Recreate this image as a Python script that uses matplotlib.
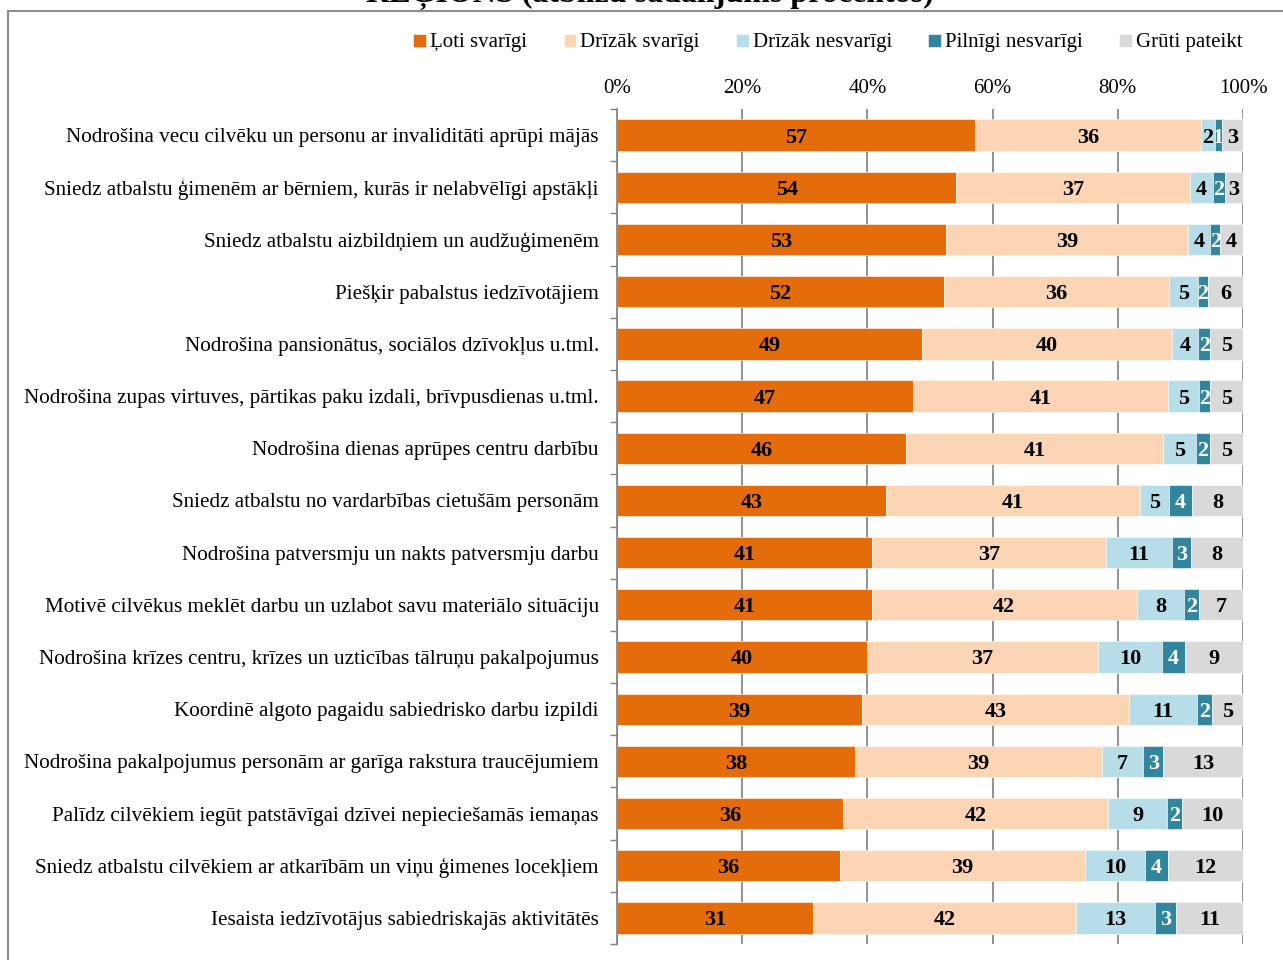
import matplotlib.pyplot as plt
from matplotlib.patches import Rectangle
import numpy as np

plt.rcParams['font.family'] = ['Liberation Serif', 'DejaVu Serif']

# kategorijas (no augšas uz leju)
categories = [
    "Nodrošina vecu cilvēku un personu ar invaliditāti aprūpi mājās",
    "Sniedz atbalstu ģimenēm ar bērniem, kurās ir nelabvēlīgi apstākļi",
    "Sniedz atbalstu aizbildņiem un audžuģimenēm",
    "Piešķir pabalstus iedzīvotājiem",
    "Nodrošina pansionātus, sociālos dzīvokļus u.tml.",
    "Nodrošina zupas virtuves, pārtikas paku izdali, brīvpusdienas u.tml.",
    "Nodrošina dienas aprūpes centru darbību",
    "Sniedz atbalstu no vardarbības cietušām personām",
    "Nodrošina patversmju un nakts patversmju darbu",
    "Motivē cilvēkus meklēt darbu un uzlabot savu materiālo situāciju",
    "Nodrošina krīzes centru, krīzes un uzticības tālruņu pakalpojumus",
    "Koordinē algoto pagaidu sabiedrisko darbu izpildi",
    "Nodrošina pakalpojumus personām ar garīga rakstura traucējumiem",
    "Palīdz cilvēkiem iegūt patstāvīgai dzīvei nepieciešamās iemaņas",
    "Sniedz atbalstu cilvēkiem ar atkarībām un viņu ģimenes locekļiem",
    "Iesaista iedzīvotājus sabiedriskajās aktivitātēs",
]

series_names = ["Ļoti svarīgi", "Drīzāk svarīgi", "Drīzāk nesvarīgi",
                "Pilnīgi nesvarīgi", "Grūti pateikt"]

loti_svarigi = [57.2, 54.2, 52.6, 52.2, 48.7, 47.3, 46.2, 43.0, 40.7, 40.7, 39.9, 39.1, 38.0, 36.1, 35.6, 31.3]
drizak_svarigi = [36.1, 37.4, 38.6, 35.9, 39.9, 40.7, 41.0, 40.6, 37.4, 42.3, 37.0, 42.7, 39.4, 42.4, 39.2, 42.0]
drizak_nesvarigi = [2.2, 3.6, 3.6, 4.7, 4.2, 5.0, 5.3, 4.6, 10.6, 7.6, 10.2, 10.9, 6.7, 9.4, 9.6, 12.7]
pilnigi_nesvarigi = [1.1, 1.9, 1.6, 1.6, 2.0, 1.7, 2.2, 3.6, 3.0, 2.4, 3.6, 2.3, 3.2, 2.3, 3.6, 3.3]
gruti_pateikt = [3.4, 2.9, 3.6, 5.6, 5.2, 5.3, 5.3, 8.2, 8.3, 7.0, 9.3, 5.0, 12.7, 9.8, 12.0, 10.7]

colors = ['#E46C0A', '#FCD5B5', '#B7DEE8', '#31859C', '#D9D9D9']
text_colors = ['black', 'black', 'black', 'white', 'black']

data = [loti_svarigi, drizak_svarigi, drizak_nesvarigi, pilnigi_nesvarigi, gruti_pateikt]

fig = plt.figure(figsize=(12.83, 9.6), dpi=100)
ax = fig.add_axes([617 / 1283, 1 - 944 / 960, 626 / 1283, 835 / 960])

y = np.arange(len(categories))
left = np.zeros(len(categories))
for k in range(5):
    vals = np.array(data[k])
    ax.barh(y, vals, left=left, height=0.6, color=colors[k],
            edgecolor='white', linewidth=0.4, label=series_names[k], zorder=2)
    for i in range(len(categories)):
        ax.text(left[i] + vals[i] / 2, y[i], f"{vals[i]:.0f}",
                ha='center', va='center_baseline', fontsize=16, fontweight='bold',
                color=text_colors[k], zorder=3)
    left += vals

ax.set_xlim(0, 100)
ax.set_ylim(len(categories) - 0.5, -0.5)
ax.set_yticks(y)
ax.set_yticklabels(categories, fontsize=15.2)
ax.set_yticks(np.arange(-0.5, len(categories)), minor=True)
ax.tick_params(axis='y', which='major', length=0, pad=13)
ax.tick_params(axis='y', which='minor', length=5, color='#808080', width=1)

ax.xaxis.tick_top()
ax.set_xticks([0, 20, 40, 60, 80, 100])
ax.set_xticklabels(["0%", "20%", "40%", "60%", "80%", "100%"], fontsize=15)
ax.tick_params(axis='x', length=0, pad=8)
ax.xaxis.grid(True, color='#808080', linewidth=1.2, zorder=0)
ax.set_axisbelow(True)

for s in ['top', 'right', 'bottom']:
    ax.spines[s].set_visible(False)
ax.spines['left'].set_color('#808080')
ax.spines['left'].set_linewidth(1.2)

ax.legend(loc='center', bbox_to_anchor=(828 / 1283, 1 - 43 / 960), bbox_transform=fig.transFigure,
          ncol=5, frameon=False, fontsize=15, handlelength=0.6, handleheight=0.6,
          handletextpad=0.2, columnspacing=1.75, borderaxespad=0, borderpad=0)

# ietvars ap attēlu
fig.patches.append(Rectangle((7.5 / 1283, -0.1), 1.2, 1 - 10.5 / 960 + 0.1,
                             transform=fig.transFigure, fill=False,
                             edgecolor='#8c8c8c', linewidth=1.5))

fig.text(650 / 1283, 1 - 2 / 960, "REĢIONS (atbilžu sadalījums procentos)",
         ha='center', va='baseline', fontsize=23, fontweight='bold')

fig.savefig('out.png', dpi=100)
